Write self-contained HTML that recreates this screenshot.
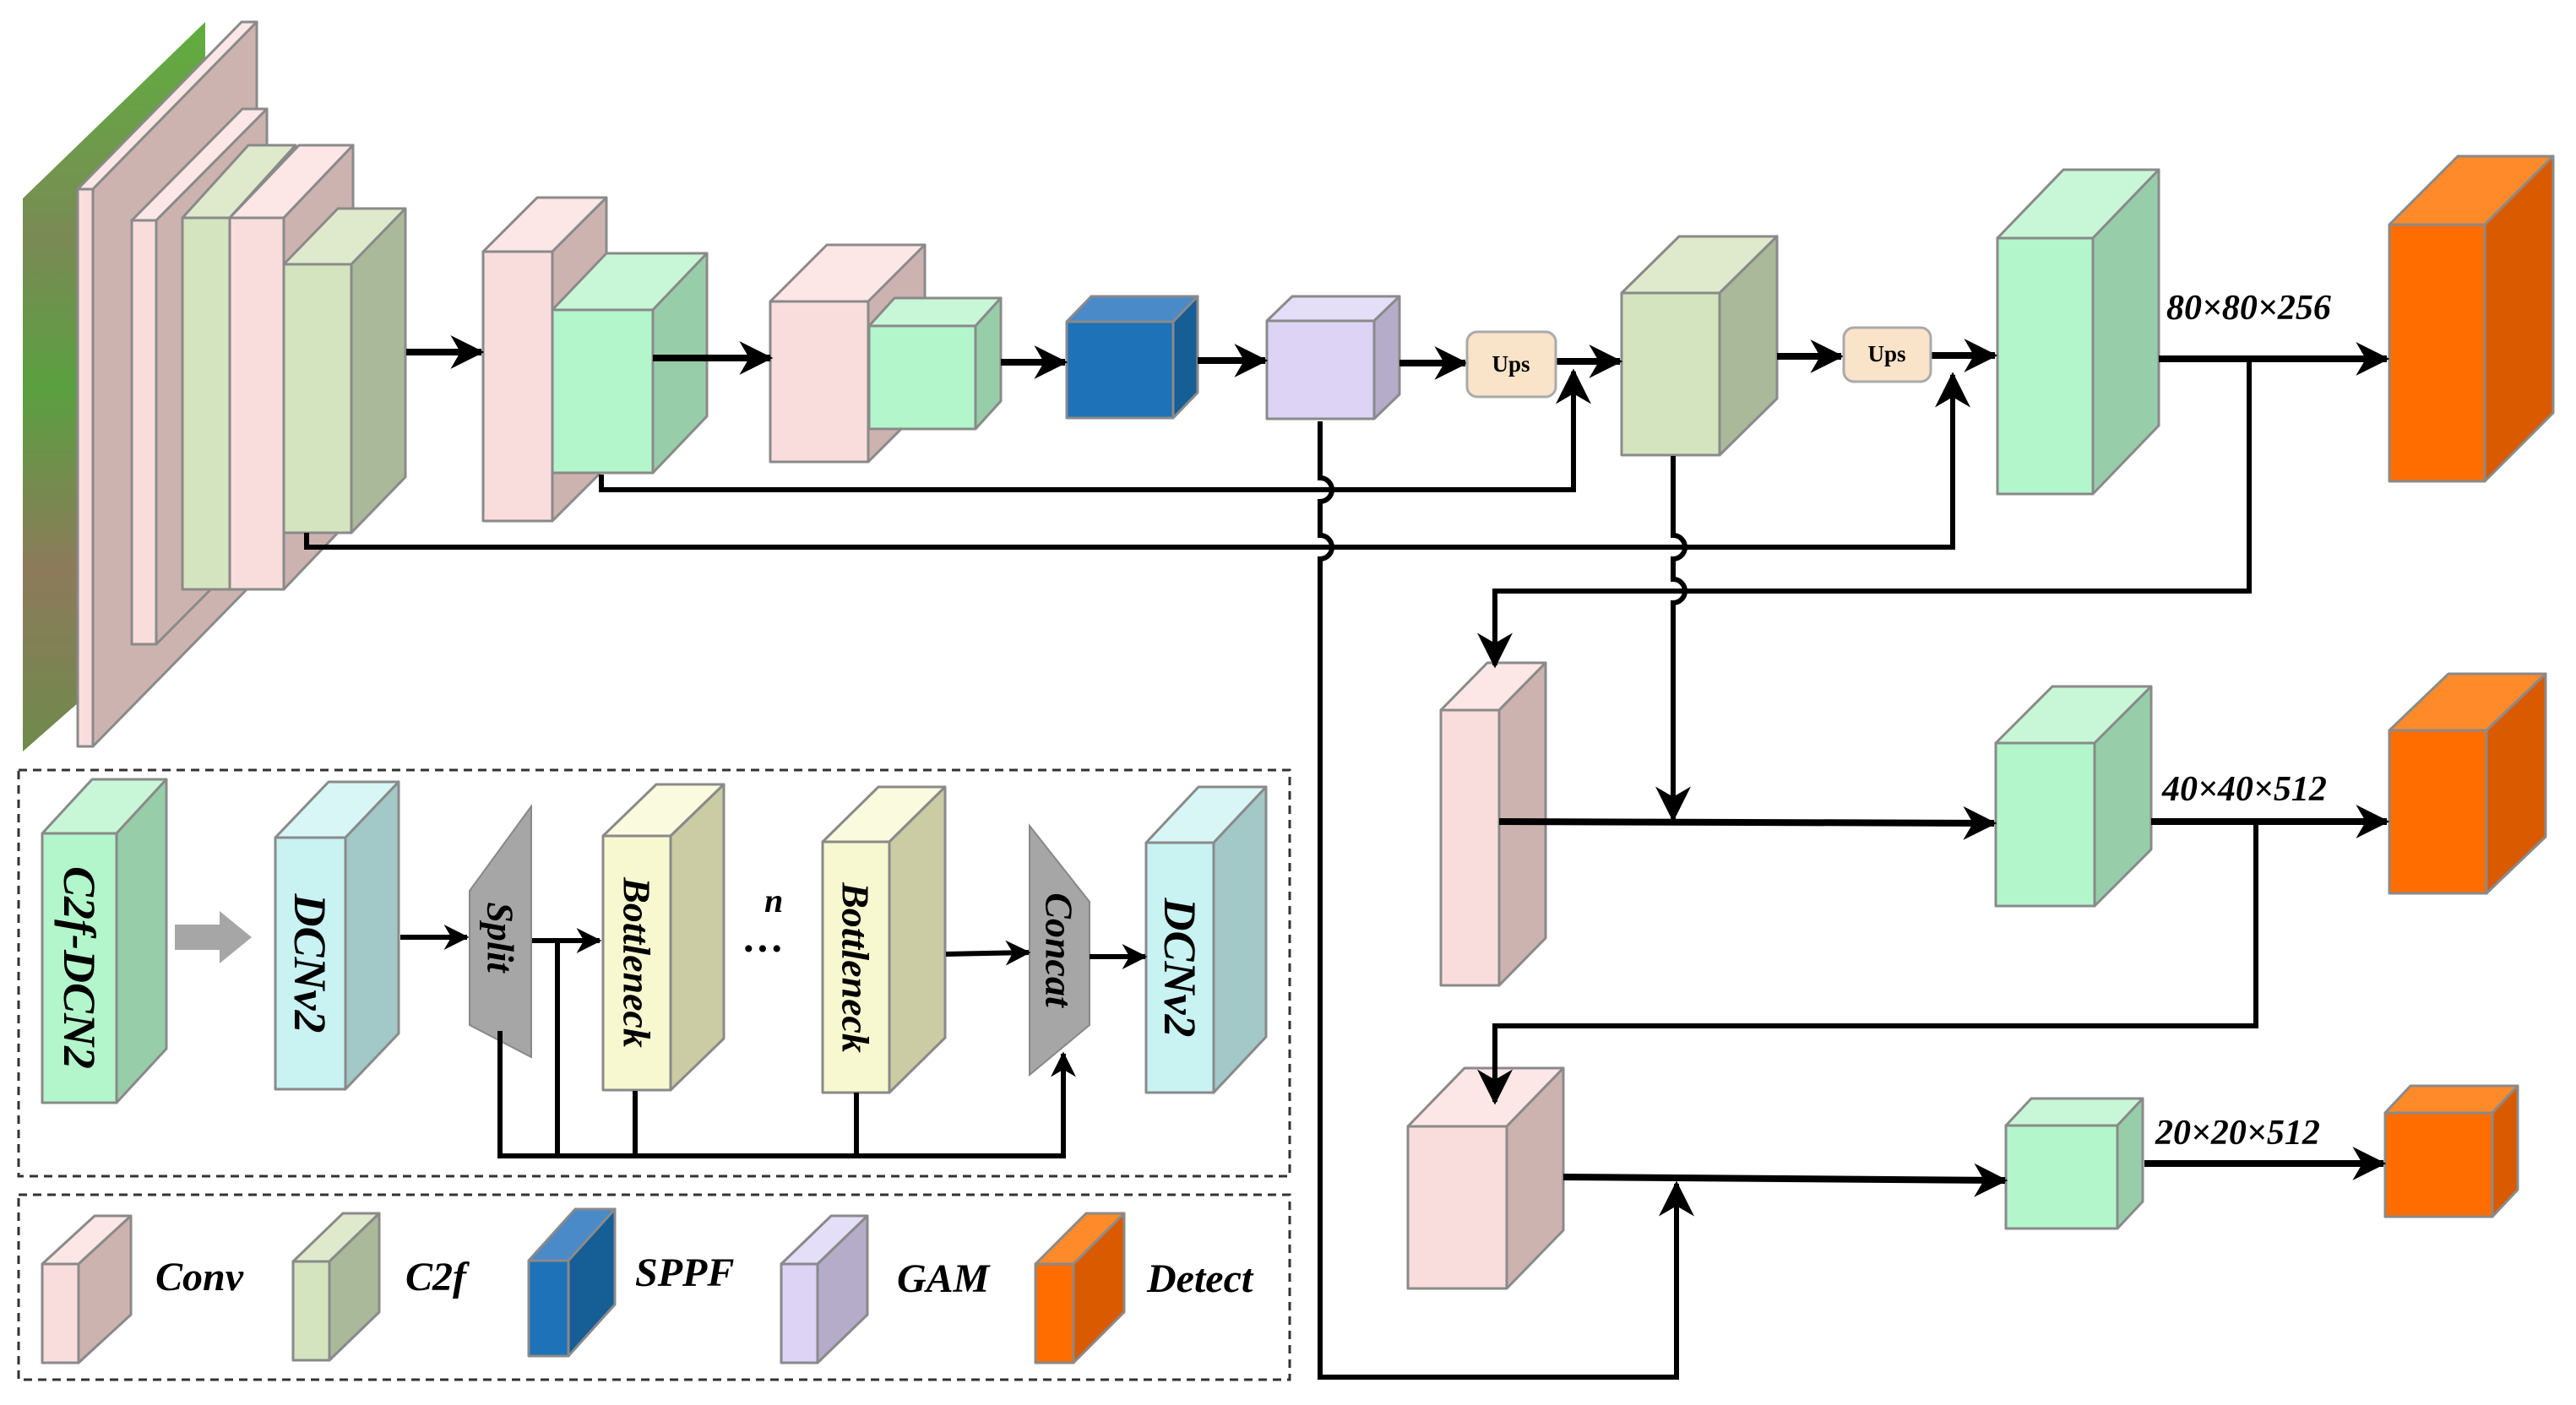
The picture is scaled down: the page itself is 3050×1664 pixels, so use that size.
<!DOCTYPE html>
<html><head><meta charset="utf-8"><style>
html,body{margin:0;padding:0;background:#fff;width:3050px;height:1664px;overflow:hidden}
svg{display:block}
text{font-family:"Liberation Serif",serif;font-weight:bold;font-style:italic;fill:#000}
</style></head><body>
<svg id="s" width="3050" height="1664" viewBox="0 0 3050 1664" xmlns="http://www.w3.org/2000/svg">
<defs>
<marker id="ah" viewBox="0 0 12 12" refX="11" refY="6" markerWidth="5" markerHeight="5" orient="auto" markerUnits="strokeWidth">
<path d="M0,0 L12,6 L0,12 L3.5,6 z" fill="#000"/></marker>
<marker id="ah2" viewBox="0 0 12 12" refX="11" refY="6" markerWidth="7" markerHeight="7" orient="auto" markerUnits="strokeWidth">
<path d="M0,0 L12,6 L0,12 L3.5,6 z" fill="#000"/></marker>
<linearGradient id="ph" x1="0" y1="0" x2="0" y2="1">
<stop offset="0" stop-color="#5fae3e"/><stop offset="0.3" stop-color="#7a8a55"/><stop offset="0.5" stop-color="#5aa040"/><stop offset="0.75" stop-color="#8c7a5a"/><stop offset="1" stop-color="#6f8a4c"/></linearGradient>
</defs>
<polygon points="27,235 243,26 243,700 27,890" fill="url(#ph)"/>
<g id="cubes"></g>
<g fill="none" stroke="#000" stroke-width="8">
<line x1="481" y1="417" x2="570" y2="417" marker-end="url(#ah)"/>
<line x1="773" y1="424" x2="912" y2="424" marker-end="url(#ah)"/>
<line x1="1185" y1="429" x2="1261" y2="429" marker-end="url(#ah)"/>
<line x1="1418" y1="427" x2="1498" y2="427" marker-end="url(#ah)"/>
<line x1="1657" y1="430" x2="1735" y2="430" marker-end="url(#ah)"/>
<line x1="1842" y1="428" x2="1918" y2="428" marker-end="url(#ah)"/>
<line x1="2104" y1="422" x2="2180" y2="422" marker-end="url(#ah)"/>
<line x1="2286" y1="421" x2="2362" y2="421" marker-end="url(#ah)"/>
<line x1="2556" y1="425" x2="2826" y2="425" marker-end="url(#ah)"/>
<line x1="1775" y1="973" x2="2361" y2="975" marker-end="url(#ah)"/>
<line x1="2547" y1="973" x2="2826" y2="973" marker-end="url(#ah)"/>
<line x1="1851" y1="1394" x2="2374" y2="1398" marker-end="url(#ah)"/>
<line x1="2539" y1="1378" x2="2822" y2="1378" marker-end="url(#ah)"/>
</g>
<g fill="none" stroke="#000" stroke-width="6">
<polyline points="712,562 712,580 1863,580 1863,440" marker-end="url(#ah2)"/>
<polyline points="363,631 363,648 2312,648 2312,444" marker-end="url(#ah2)"/>
<polyline points="2663,425 2663,700 1770,700 1770,788" marker-end="url(#ah2)"/>
<polyline points="2671,973 2671,1215 1770,1215 1770,1305" marker-end="url(#ah2)"/>
<path d="M1563,499 L1563,566 A14,14 0 0 1 1563,594 L1563,634 A14,14 0 0 1 1563,662 L1563,1631 L1985,1631 L1985,1402" marker-end="url(#ah2)"/>
<path d="M1981,540 L1981,634 A14,14 0 0 1 1981,662 L1981,686 A14,14 0 0 1 1981,714 L1981,970" marker-end="url(#ah2)"/>
</g>
<text x="2565" y="378" font-size="42">80×80×256</text>
<text x="2560" y="948" font-size="42">40×40×512</text>
<text x="2552" y="1355" font-size="42">20×20×512</text>
<rect x="1737" y="393" width="105" height="77" rx="12" fill="#f9e3c9" stroke="#aaa" stroke-width="3"/>
<text x="1789" y="440" font-size="27" style="font-style:normal" text-anchor="middle">Ups</text>
<rect x="2183" y="388" width="103" height="64" rx="12" fill="#f9e3c9" stroke="#aaa" stroke-width="3"/>
<text x="2234" y="428" font-size="27" style="font-style:normal" text-anchor="middle">Ups</text>
<!-- inset -->
<rect x="22" y="912" width="1505" height="481" fill="none" stroke="#333" stroke-width="3" stroke-dasharray="10,7"/>
<rect x="22" y="1415" width="1505" height="219" fill="none" stroke="#333" stroke-width="3" stroke-dasharray="10,7"/>
<polygon points="207,1095 260,1095 260,1079 298,1110 260,1141 260,1125 207,1125" fill="#a6a6a6"/>
<polygon points="629,955 556,1055 556,1214 629,1252" fill="#a6a6a6" stroke="#888" stroke-width="2"/>
<polygon points="1219,978 1290,1068 1290,1214 1219,1273" fill="#a6a6a6" stroke="#888" stroke-width="2"/>
<g fill="none" stroke="#000" stroke-width="6">
<line x1="474" y1="1110" x2="553" y2="1110" marker-end="url(#ah)"/>
<line x1="630" y1="1114" x2="710" y2="1114" marker-end="url(#ah)"/>
<line x1="1120" y1="1130" x2="1218" y2="1128" marker-end="url(#ah)"/>
<line x1="1290" y1="1133" x2="1356" y2="1133" marker-end="url(#ah)"/>
<polyline points="592,1221 592,1369 1259,1369 1259,1248" marker-end="url(#ah)"/>
<line x1="660" y1="1115" x2="660" y2="1369"/>
<line x1="752" y1="1292" x2="752" y2="1369"/>
<line x1="1014" y1="1294" x2="1014" y2="1369"/>
</g>
<text x="905" y="1080" font-size="40">n</text>
<text x="878" y="1140" font-size="50" style="font-style:normal">···</text>
<text transform="translate(94,1146) rotate(90)" font-size="54" text-anchor="middle" dominant-baseline="central">C2f-DCN2</text>
<text transform="translate(367,1141) rotate(90)" font-size="54" text-anchor="middle" dominant-baseline="central">DCNv2</text>
<text transform="translate(1397,1146) rotate(90)" font-size="54" text-anchor="middle" dominant-baseline="central">DCNv2</text>
<text transform="translate(592,1110) rotate(90)" font-size="44" text-anchor="middle" dominant-baseline="central">Split</text>
<text transform="translate(1254,1125) rotate(90)" font-size="46" text-anchor="middle" dominant-baseline="central">Concat</text>
<text transform="translate(754,1140) rotate(90)" font-size="46" text-anchor="middle" dominant-baseline="central">Bottleneck</text>
<text transform="translate(1013,1146) rotate(90)" font-size="46" text-anchor="middle" dominant-baseline="central">Bottleneck</text>
<text x="184" y="1528" font-size="48">Conv</text>
<text x="480" y="1528" font-size="48">C2f</text>
<text x="752" y="1523" font-size="48">SPPF</text>
<text x="1062" y="1530" font-size="48">GAM</text>
<text x="1358" y="1530" font-size="48">Detect</text>
</svg>
<script>
var C={pink:["#f9dcdc","#fde6e6","#cdb3b0"],c2f:["#d3e4bf","#dfeacc","#a9b99a"],grn:["#b3f6cb","#c8f7d7","#97cea9"],blu:["#1e72b8","#4a8ac8","#155e96"],gam:["#dcd3f5","#e5def8","#b5acca"],org:["#ff6d00","#ff8a2a","#da5a00"],cyn:["#c9f2f2","#d8f6f6","#a2c8c8"],yel:["#f8f8d0","#fafade","#cbcba4"]};
var L=[
["pink",92,224,18,660,194,-198],["pink",156,261,29,502,131,-132],["c2f",216,258,56,440,78,-86],["pink",272,258,64,440,82,-86],["c2f",336,313,80,318,64,-66],
["pink",572,298,82,319,64,-64],["grn",654,367,119,193,64,-67],["pink",912,357,116,190,67,-67],["grn",1029,386,126,122,30,-33],
["blu",1263,381,126,114,29,-30],["gam",1500,380,127,116,30,-29],["c2f",1920,347,116,192,68,-67],["grn",2365,282,113,303,78,-81],["org",2829,266,113,304,81,-81],
["pink",1706,841,69,326,55,-56],["grn",2363,880,117,193,67,-67],["org",2829,865,115,193,70,-67],["pink",1667,1334,117,192,67,-69],["grn",2375,1333,132,122,30,-32],["org",2824,1318,127,123,30,-32],
["grn",50,987,88,319,59,-64],["cyn",326,992,83,298,63,-66],["yel",714,990,80,301,63,-61],["yel",974,997,79,297,66,-65],["cyn",1357,998,80,296,62,-66],
["pink",50,1497,43,117,62,-57],["c2f",347,1494,43,117,59,-57],["blu",626,1493,47,113,55,-61],["gam",925,1497,43,117,59,-57],["org",1226,1497,45,117,60,-60]];
var g=document.getElementById("cubes"),h="";
L.forEach(function(c){var k=C[c[0]],x=c[1],y=c[2],w=c[3],H=c[4],dx=c[5],dy=c[6],st=' stroke="#8a8a8a" stroke-width="3" stroke-linejoin="round"';
h+='<polygon points="'+[x,y,x+dx,y+dy,x+w+dx,y+dy,x+w,y].join(",")+'" fill="'+k[1]+'"'+st+'/>';
h+='<polygon points="'+[x+w,y,x+w+dx,y+dy,x+w+dx,y+H+dy,x+w,y+H].join(",")+'" fill="'+k[2]+'"'+st+'/>';
h+='<rect x="'+x+'" y="'+y+'" width="'+w+'" height="'+H+'" fill="'+k[0]+'"'+st+'/>';});
g.innerHTML=h;
</script>
</body></html>
